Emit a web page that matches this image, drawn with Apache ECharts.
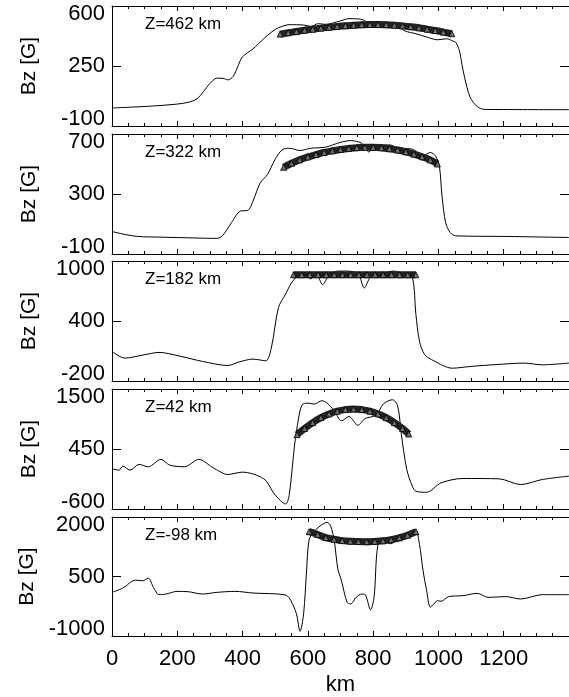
<!DOCTYPE html>
<html>
<head>
<meta charset="utf-8">
<script src="https://cdn.jsdelivr.net/npm/echarts@6/dist/echarts.min.js"></script>
<style>html,body{margin:0;padding:0;background:#fff}#c{width:569px;height:697px}</style>
</head>
<body>
<div id="c"></div>
<script>
// ---- data (km, Bz in G) ----
const heights = ['Z=462 km', 'Z=322 km', 'Z=182 km', 'Z=42 km', 'Z=-98 km'];
const xTicks = [0, 200, 400, 600, 800, 1000, 1200];
const yTicks462 = [-100, 250, 600];
const yTicks322 = [-100, 300, 700];
const yTicks182 = [-200, 400, 1000];
const yTicks42 = [-600, 450, 1500];
const yTicksM98 = [-1000, 500, 2000];

const line462 = [[0,5],[120,16],[200,28],[233,38],[260,58],[280,100],[299,146],[321,179],[340,178],[355,169],[371,189],[385,245],[399,302],[432,350],[465,409],[490,450],[510,473],[543,491],[587,489],[609,481],[632,497],[654,493],[698,512],[726,526],[765,522],[787,501],[831,497],[875,481],[898,454],[931,438],[964,419],[997,403],[1025,409],[1045,395],[1053,389],[1064,341],[1072,260],[1080,185],[1097,68],[1119,13],[1141,-3],[1200,-4],[1400,-5]];
const fit462 = [[515,436],[540,444],[565,451],[590,459],[615,465],[640,471],[665,476],[690,481],[715,485],[740,488],[765,491],[790,492],[815,492],[840,491],[865,488],[890,484],[915,479],[940,473],[965,465],[990,457],[1015,448],[1041,438]];

const line322 = [[0,50],[40,30],[78,17],[155,12],[250,7],[321,4],[338,21],[366,109],[393,186],[416,191],[432,253],[454,374],[476,429],[499,528],[521,594],[543,605],[576,590],[609,605],[654,612],[698,643],[731,656],[765,638],[787,580],[800,615],[820,627],[853,627],[875,605],[920,599],[953,555],[975,577],[992,550],[1003,484],[1011,286],[1022,109],[1036,43],[1053,21],[1208,17],[1400,10]];
const fit322 = [[526,478],[550,505],[575,528],[600,547],[625,563],[650,577],[675,588],[700,597],[725,604],[750,609],[775,611],[800,611],[825,608],[850,602],[875,593],[900,581],[925,566],[950,548],[975,527],[997,500]];

const line182 = [[0,96],[39,29],[100,63],[144,86],[211,46],[277,-4],[355,-45],[388,-11],[432,19],[471,2],[488,130],[510,535],[532,670],[548,771],[565,838],[587,865],[600,840],[609,821],[626,872],[645,764],[665,855],[692,899],[720,899],[754,872],[773,730],[792,838],[831,879],[864,899],[898,865],[920,838],[931,467],[942,198],[958,63],[986,2],[1042,-72],[1097,-55],[1180,-35],[1263,-21],[1318,-38],[1400,-21]];
const fit182 = [[556,862],[581,862],[606,863],[631,863],[656,863],[681,863],[706,863],[731,863],[756,863],[781,863],[806,863],[831,863],[856,863],[881,862],[906,862],[931,862]];

const line42 = [[0,104],[22,80],[33,151],[55,80],[83,180],[111,139],[150,268],[177,168],[222,139],[266,268],[310,121],[355,4],[399,45],[465,-72],[499,-348],[532,-512],[543,-348],[559,503],[571,972],[582,1218],[598,1254],[620,1236],[643,1295],[659,1254],[681,1119],[703,943],[726,1019],[753,866],[776,984],[809,1042],[831,1236],[859,1312],[875,1207],[887,679],[903,92],[920,-201],[931,-289],[964,-307],[1008,-142],[1075,-66],[1186,-72],[1252,-172],[1318,-84],[1400,-25]];
const fit42 = [[567,702],[590,808],[615,912],[640,998],[665,1064],[690,1112],[715,1140],[740,1150],[765,1140],[790,1112],[815,1064],[840,998],[865,912],[890,808],[909,712]];

const lineM98 = [[0,100],[33,208],[72,408],[94,392],[111,458],[127,225],[144,42],[166,58],[199,125],[233,117],[277,58],[321,100],[377,125],[432,83],[532,33],[548,-108],[565,-442],[576,-883],[587,-442],[596,642],[604,1433],[620,1642],[643,1808],[659,1867],[670,1767],[681,1392],[692,683],[703,392],[720,-150],[731,-192],[748,-25],[765,58],[776,42],[792,-342],[803,-8],[814,1267],[831,1430],[853,1325],[875,1433],[909,1517],[931,1640],[942,1308],[953,642],[964,142],[975,-275],[986,-192],[997,-108],[1008,-125],[1031,-8],[1075,17],[1119,75],[1152,-25],[1208,-8],[1252,-67],[1318,42],[1400,42]];
const fitM98 = [[604,1630],[630,1560],[655,1480],[680,1440],[705,1405],[730,1390],[755,1380],[780,1378],[805,1385],[830,1400],[855,1430],[880,1475],[905,1540],[931,1630]];

const panels = [
  {label: heights[0], ticks: yTicks462, line: line462, fit: fit462},
  {label: heights[1], ticks: yTicks322, line: line322, fit: fit322},
  {label: heights[2], ticks: yTicks182, line: line182, fit: fit182},
  {label: heights[3], ticks: yTicks42, line: line42, fit: fit42},
  {label: heights[4], ticks: yTicksM98, line: lineM98, fit: fitM98}
];

// ---- layout / style ----
const FONT = "'Liberation Sans', Arial, Helvetica, sans-serif";
const tops = [6, 134, 261, 389, 517];
const H = 120, LEFT = 112, W = 459;

const grid = [], xAxis = [], yAxis = [], series = [], title = [];
panels.forEach((p, i) => {
  const t = p.ticks;
  grid.push({left: LEFT, top: tops[i], width: W, height: H, show: false, containLabel: false});
  const xBase = {
    gridIndex: i, type: 'value', min: 0, max: 1400, interval: 200,
    axisLine: {show: true, onZero: false, lineStyle: {color: '#000', width: 1}},
    axisTick: {show: true, inside: true, length: 5, lineStyle: {color: '#000', width: 1}},
    minorTick: {show: true, splitNumber: 4, length: 3, lineStyle: {color: '#000', width: 1}},
    splitLine: {show: false}, minorSplitLine: {show: false}
  };
  xAxis.push(Object.assign({}, xBase, {
    position: 'bottom',
    axisLabel: {
      show: i === 4, color: '#000', fontSize: 22, fontFamily: FONT, margin: 12,
      customValues: xTicks,
      formatter: v => String(v)
    },
    name: i === 4 ? 'km' : '', nameLocation: 'middle', nameGap: 38,
    nameTextStyle: {color: '#000', fontSize: 22, fontFamily: FONT}
  }));
  xAxis.push(Object.assign({}, xBase, {position: 'top', axisLabel: {show: false}}));

  const yBase = {
    gridIndex: i, type: 'value', min: t[0], max: t[2],
    axisLine: {show: true, onZero: false, lineStyle: {color: '#000', width: 1}},
    axisTick: {show: true, inside: true, length: 9, customValues: [t[1]], lineStyle: {color: '#000', width: 1}},
    splitLine: {show: false}
  };
  yAxis.push(Object.assign({}, yBase, {
    position: 'left',
    axisLabel: {
      show: true, color: '#000', fontSize: 22, fontFamily: FONT, margin: 7,
      customValues: t,
      formatter: v => (v === t[0] ? '{lo|' + v + '}' : v === t[2] ? '{hi|' + v + '}' : '{m|' + v + '}'),
      rich: {
        lo: {fontSize: 22, fontFamily: FONT, color: '#000', padding: [0, 0, 15, 0]},
        hi: {fontSize: 22, fontFamily: FONT, color: '#000', padding: [15, 0, 0, 0]},
        m: {fontSize: 22, fontFamily: FONT, color: '#000'}
      }
    },
    name: 'Bz [G]', nameLocation: 'middle', nameGap: 72, nameRotate: 90,
    nameTextStyle: {color: '#000', fontSize: 21, fontFamily: FONT}
  }));
  yAxis.push(Object.assign({}, yBase, {position: 'right', axisLabel: {show: false}}));

  series.push({
    type: 'line', xAxisIndex: 2 * i, yAxisIndex: 2 * i, data: p.line,
    showSymbol: false, smooth: 0.3, lineStyle: {color: '#000', width: 1}, z: 2, silent: true
  });
  series.push({
    type: 'line', xAxisIndex: 2 * i, yAxisIndex: 2 * i, data: p.fit,
    symbol: 'triangle', symbolSize: 6, showSymbol: true, showAllSymbol: true, smooth: true,
    lineStyle: {color: '#222', width: 7},
    itemStyle: {color: '#6e6e6e', borderColor: '#000', borderWidth: 0.8}, z: 3, silent: true
  });
  title.push({
    text: p.label, left: 145, top: tops[i] + 10, padding: 0,
    textStyle: {color: '#000', fontSize: 17, fontWeight: 'normal', fontFamily: FONT}
  });
});

const chart = echarts.init(document.getElementById('c'), null, {renderer: 'canvas'});
chart.setOption({animation: false, backgroundColor: '#fff', title, grid, xAxis, yAxis, series});
</script>
</body>
</html>
